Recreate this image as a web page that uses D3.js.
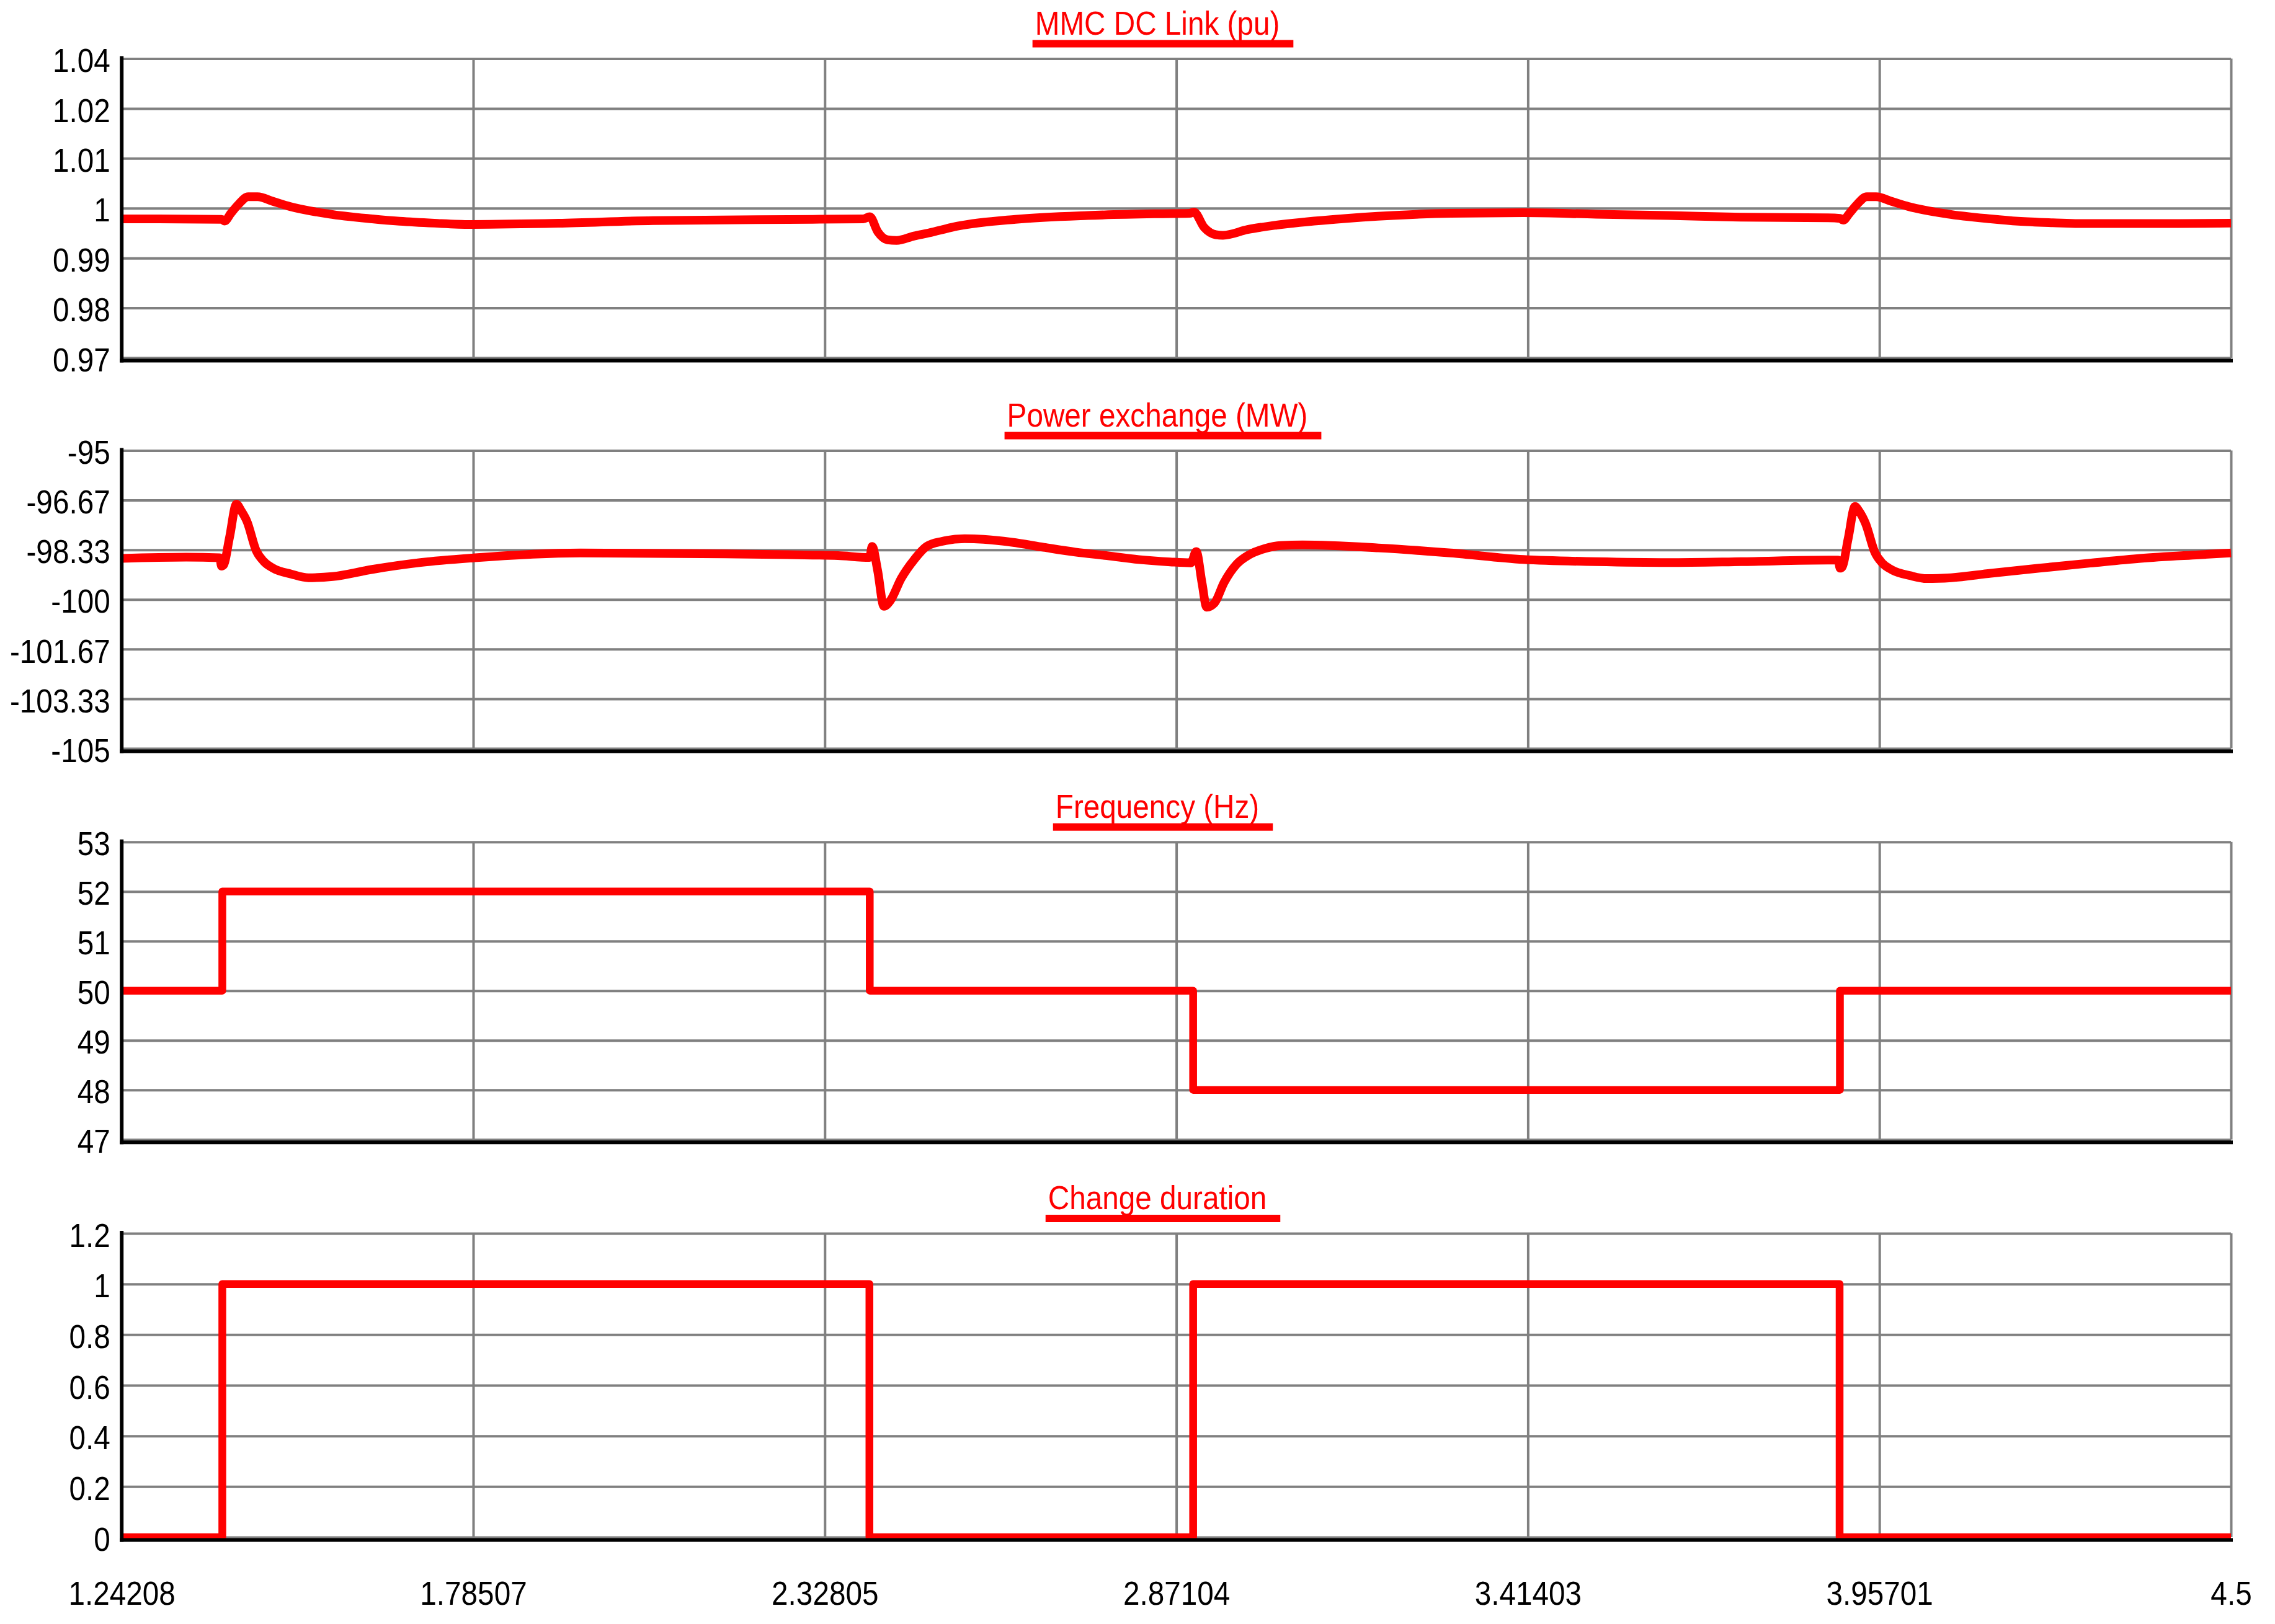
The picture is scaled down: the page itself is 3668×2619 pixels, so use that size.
<!DOCTYPE html>
<html><head><meta charset="utf-8">
<script src="https://cdn.jsdelivr.net/npm/d3@7"></script>
<style>body{margin:0;background:#fff}</style>
</head><body><svg id="c" width="3668" height="2619" style="background:#fff"></svg>
<script>
// ---------- DATA ----------
const xTicks = [1.24208, 1.78507, 2.32805, 2.87104, 3.41403, 3.95701, 4.5];
const xTickLabels = ["1.24208","1.78507","2.32805","2.87104","3.41403","3.95701","4.5"];

const titles = ["MMC DC Link (pu)", "Power exchange (MW)", "Frequency (Hz)", "Change duration"];

const dcTicks = [1.04, 1.0283333, 1.0166667, 1.005, 0.9933333, 0.9816667, 0.97];
const dcTickLabels = ["1.04","1.02","1.01","1","0.99","0.98","0.97"];
const dcTime = [1.24208,1.3000,1.3963,1.4011,1.4107,1.4231,1.4375,1.4519,1.4758,1.5017,1.5620,1.6291,1.6712,1.7249,1.7804,1.9165,2.0626,2.3092,2.3875,2.3976,2.4098,2.4250,2.4390,2.4660,2.4883,2.5331,2.6224,2.7345,2.8466,2.8916,2.8983,2.9140,2.9319,2.9431,2.9812,3.0260,3.1157,3.2053,3.2949,3.4070,3.5191,3.6311,3.7432,3.8774,3.8963,3.9011,3.9107,3.9231,3.9375,3.9519,3.9758,4.0017,4.0620,4.1291,4.1712,4.2249,4.2804,4.4165,4.5];
const dcValue = [1.0025,1.0025,1.0024,1.0020,1.0038,1.0060,1.0077,1.0077,1.0066,1.0054,1.00365,1.0025,1.00195,1.0015,1.0012,1.00147,1.0021,1.0024,1.0025,1.0030,0.9995,0.9976,0.99745,0.9985,0.9992,1.0008,1.0024,1.0033,1.0037,1.0038,1.0041,1.0005,0.9988,0.99866,1.0000,1.00105,1.0024,1.0033,1.0038,1.00394,1.0036,1.0033,1.0029,1.00275,1.0026,1.0022,1.0038,1.0060,1.0077,1.0077,1.0066,1.0054,1.00365,1.0025,1.00195,1.0016,1.0014,1.0014,1.0015];

const pwTicks = [-95, -96.6667, -98.3333, -100, -101.6667, -103.3333, -105];
const pwTickLabels = ["-95","-96.67","-98.33","-100","-101.67","-103.33","-105"];
const pwTime = [1.24208,1.3417,1.3934,1.3963,1.3992,1.4088,1.4193,1.4260,1.4356,1.4500,1.4614,1.4758,1.5045,1.5304,1.5678,1.6291,1.7038,1.7823,1.9506,2.1746,2.3092,2.3485,2.3973,2.4012,2.4096,2.4194,2.4290,2.4462,2.4659,2.4855,2.5094,2.5439,2.5733,2.6173,2.6663,2.7151,2.7640,2.8128,2.8617,2.8936,2.9018,2.9106,2.9179,2.9300,2.9448,2.9645,2.9836,3.0083,3.0324,3.0660,3.1829,3.2949,3.4070,3.5191,3.6311,3.7432,3.8774,3.8934,3.8963,3.8992,3.9088,3.9193,3.9260,3.9356,3.9500,3.9614,3.9758,4.0045,4.0304,4.0678,4.1291,4.2038,4.2823,4.3600,4.4506,4.5];
const pwValue = [-98.62,-98.58,-98.60,-98.88,-98.85,-97.90,-96.80,-97.00,-97.38,-98.37,-98.72,-98.95,-99.15,-99.27,-99.23,-98.99,-98.76,-98.61,-98.44,-98.47,-98.51,-98.53,-98.59,-98.22,-99.02,-100.23,-100.05,-99.29,-98.67,-98.22,-98.05,-97.96,-97.98,-98.08,-98.25,-98.41,-98.53,-98.66,-98.74,-98.77,-98.39,-99.43,-100.26,-100.12,-99.43,-98.81,-98.50,-98.29,-98.19,-98.17,-98.27,-98.44,-98.66,-98.73,-98.76,-98.73,-98.68,-98.68,-98.95,-98.92,-97.95,-96.88,-97.05,-97.45,-98.42,-98.78,-99.00,-99.20,-99.30,-99.27,-99.12,-98.95,-98.78,-98.62,-98.50,-98.44];

const frTicks = [53, 52, 51, 50, 49, 48, 47];
const frTickLabels = ["53","52","51","50","49","48","47"];
const frTime = [1.24208, 1.3975, 2.3975, 2.8970, 3.8960, 4.5];
const frValue = [50, 52, 50, 48, 50, 50];

const duTicks = [1.2, 1.0, 0.8, 0.6, 0.4, 0.2, 0];
const duTickLabels = ["1.2","1","0.8","0.6","0.4","0.2","0"];
const duTime = [1.24208, 1.3975, 2.3970, 2.8970, 3.8955, 4.5];
const duValue = [0, 1, 0, 1, 0, 0];

// ---------- LAYOUT ----------
const X0 = 196.2, X1 = 3597;
const FONT = "'Liberation Sans', Arial, Helvetica, sans-serif";
const SX = 0.9, SXT = 0.875;
const panels = [
  {title: titles[0], ticks: dcTicks, labels: dcTickLabels, t: dcTime, v: dcValue, dom: [0.97, 1.04], top: 94.5, bottom: 577, curve: d3.curveMonotoneX, sw: 14},
  {title: titles[1], ticks: pwTicks, labels: pwTickLabels, t: pwTime, v: pwValue, dom: [-105, -95], top: 726.5, bottom: 1207, curve: d3.curveMonotoneX, sw: 14},
  {title: titles[2], ticks: frTicks, labels: frTickLabels, t: frTime, v: frValue, dom: [47, 53], top: 1357.7, bottom: 1837.7, curve: d3.curveStepAfter, sw: 12.5},
  {title: titles[3], ticks: duTicks, labels: duTickLabels, t: duTime, v: duValue, dom: [0, 1.2], top: 1989, bottom: 2479, curve: d3.curveStepAfter, sw: 12.5}
];

const svg = d3.select("#c");
svg.append("rect").attr("width",3668).attr("height",2619).attr("fill","#fff");
const x = d3.scaleLinear().domain([xTicks[0], xTicks[xTicks.length-1]]).range([X0, X1]);

panels.forEach((p, i) => {
  const y = d3.scaleLinear().domain(p.dom).range([p.bottom, p.top]);

  // horizontal gridlines + y labels
  const gy = svg.append("g").attr("transform", `translate(${X0},0)`)
    .call(d3.axisLeft(y).tickValues(p.ticks).tickFormat((d, j) => p.labels[j]).tickSize(-(X1 - X0)).tickPadding(0));
  gy.select(".domain").remove();
  gy.selectAll(".tick line").attr("stroke", "#808080").attr("stroke-width", 4);
  gy.selectAll(".tick text").attr("font-family", FONT).attr("font-size", 53).attr("fill", "#000")
    .attr("x", -18.5 / SX).attr("dy", "0.4em").attr("transform", `scale(${SX},1)`);

  // vertical gridlines (+ x labels on last panel)
  const gx = svg.append("g").attr("transform", `translate(0,${p.bottom})`)
    .call(d3.axisBottom(x).tickValues(xTicks).tickFormat((d, j) => xTickLabels[j]).tickSize(-(p.bottom - p.top)).tickPadding(0));
  gx.select(".domain").remove();
  gx.selectAll(".tick line").attr("stroke", "#808080").attr("stroke-width", 4);
  if (i < panels.length - 1) {
    gx.selectAll(".tick text").remove();
  } else {
    gx.selectAll(".tick text").attr("font-family", FONT).attr("font-size", 53).attr("fill", "#000")
      .attr("y", 2588 - p.bottom).attr("dy", 0).attr("transform", `scale(${SX},1)`);
  }

  // data line
  const pts = p.t.map((t, k) => [t, p.v[k]]);
  svg.append("path").datum(pts)
    .attr("d", d3.line().x(d => x(d[0])).y(d => y(d[1])).curve(p.curve))
    .attr("fill", "none").attr("stroke", "#ff0000").attr("stroke-width", p.sw)
    .attr("stroke-linejoin", "round");

  // title + underline
  const tx = 1866, ty = p.top - 39;
  const tt = svg.append("text").attr("transform", `translate(${tx},${ty}) scale(${SXT},1)`)
    .attr("text-anchor", "middle").attr("font-family", FONT).attr("font-size", 54.5)
    .attr("fill", "#ff0000").text(p.title);
  const w = tt.node().getComputedTextLength() * SXT;
  svg.append("rect").attr("x", tx - w / 2 - 4).attr("y", p.top - 30).attr("width", w + 26).attr("height", 12)
    .attr("fill", "#ff0000");

  // black axes
  svg.append("line").attr("x1", X0).attr("x2", X0).attr("y1", p.top - 4).attr("y2", p.bottom + 7.5)
    .attr("stroke", "#000").attr("stroke-width", 6);
  svg.append("line").attr("x1", X0 - 3).attr("x2", X1 + 3).attr("y1", p.bottom + 4.5).attr("y2", p.bottom + 4.5)
    .attr("stroke", "#000").attr("stroke-width", 6);
});
</script>
</body></html>
